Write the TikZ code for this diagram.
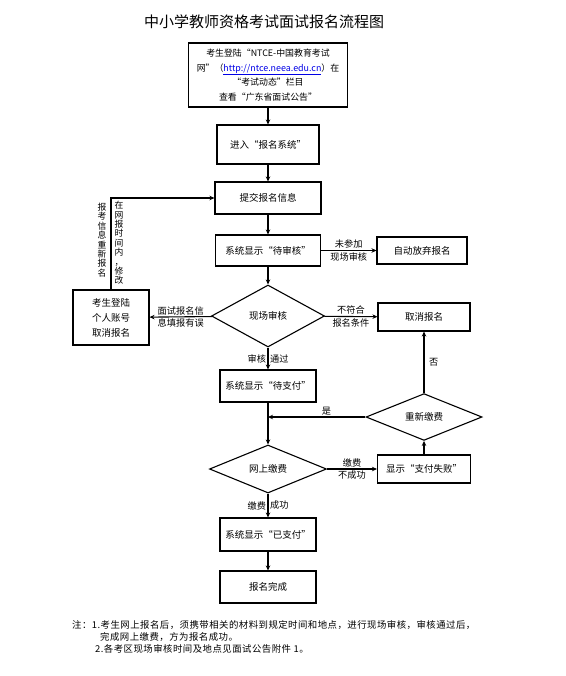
\documentclass[tikz,border=0pt]{standalone}
\usepackage{fontspec}
\setmainfont{Noto Sans CJK SC}
\definecolor{linkblue}{RGB}{0, 0, 230}
\usetikzlibrary{shapes.geometric, arrows.meta, positioning}

\tikzset{
  flowbox/.style={draw, line width=1.1pt, inner sep=2pt, align=center,
                  font=\fontsize{9.5}{14.5}\selectfont},
  decision/.style={draw, diamond, line width=1.1pt, inner sep=0pt,
                   font=\fontsize{9.5}{11}\selectfont},
  flowarrow/.style={-{Stealth[length=5pt, width=4.5pt]}, line width=1.1pt},
  lbl/.style={font=\fontsize{9.2}{10}\selectfont, inner sep=1.5pt},
  vlbl/.style={font=\fontsize{8.8}{9.4}\selectfont, inner sep=0pt, align=center},
  notetext/.style={anchor=west, inner sep=0pt,
                   font=\addfontfeature{LetterSpace=5}\fontsize{9.4}{11}\selectfont}
}

\begin{document}
\begin{tikzpicture}[x=1pt, y=-1pt]
\useasboundingbox (0,0) rectangle (565,676);

\node[font=\fontsize{15}{18}\selectfont] (title) at (264,22) {中小学教师资格考试面试报名流程图};

% main column
\node[flowbox, minimum width=159pt, minimum height=64pt,
      font=\fontsize{8.9}{14.5}\selectfont] (notice) at (268,75)
  {考生登陆“NTCE-中国教育考试\\网”（\textcolor{linkblue}{\underline{http://ntce.neea.edu.cn}}）在\\“考试动态”栏目\\查看“广东省面试公告”};
\node[flowbox, minimum width=102pt, minimum height=39pt] (enter) at (268,144.5) {进入“报名系统”};
\node[flowbox, minimum width=106pt, minimum height=32pt] (submit) at (268,198) {提交报名信息};
\node[flowbox, minimum width=105pt, minimum height=31pt] (pending) at (268,250.5) {系统显示“待审核”};
\node[decision, minimum width=113pt, minimum height=62pt] (audit) at (268,316) {现场审核};
\node[flowbox, minimum width=96pt, minimum height=32pt] (waitpay) at (268,386) {系统显示“待支付”};
\node[decision, minimum width=117pt, minimum height=48pt] (pay) at (268,469) {网上缴费};
\node[flowbox, minimum width=96pt, minimum height=33pt] (paid) at (268,534.5) {系统显示“已支付”};
\node[flowbox, minimum width=96pt, minimum height=32pt] (done) at (268,587) {报名完成};

% side nodes
\node[flowbox, minimum width=90pt, minimum height=27pt] (giveup) at (422,250.5) {自动放弃报名};
\node[flowbox, minimum width=92pt, minimum height=28pt] (cancel) at (424,317) {取消报名};
\node[flowbox, minimum width=76pt, minimum height=55pt,
      font=\fontsize{9.5}{15}\selectfont] (selfcancel) at (111,317.5) {考生登陆\\个人账号\\取消报名};
\node[decision, minimum width=116pt, minimum height=44pt] (repay) at (424,417) {重新缴费};
\node[flowbox, minimum width=93pt, minimum height=28pt] (fail) at (424,469) {显示“支付失败”};

\coordinate (join) at (268,417);

% connectors
\draw[flowarrow] (notice) -- (enter);
\draw[flowarrow] (enter) -- (submit);
\draw[flowarrow] (submit) -- (pending);
\draw[flowarrow] (pending) -- (audit);
\draw[flowarrow] (pending) -- node[lbl, above] {未参加} node[lbl, below] {现场审核} (giveup);
\draw[flowarrow] (audit) -- node[lbl, above] {不符合} node[lbl, below] {报名条件} (cancel);
\draw[flowarrow] (audit) -- node[lbl, above] {面试报名信} node[lbl, below] {息填报有误} (selfcancel);
\draw[flowarrow] (selfcancel.north) |- (submit.west);
\node[vlbl] (redo) at (102,240) {报\\考\\信\\息\\重\\新\\报\\名};
\node[vlbl] (modify) at (119,243) {在\\网\\报\\时\\间\\内\\，\\修\\改};
\draw[flowarrow] (audit) -- node[lbl, left] {审核} node[lbl, right] {通过} (waitpay);
\draw[line width=1.1pt] (waitpay) -- (join);
\draw[flowarrow] (join) -- (pay);
\draw[flowarrow] (repay) -- node[lbl, above, pos=0.4] {是} (join);
\draw[flowarrow] (repay) -- node[lbl, right=3pt] {否} (cancel);
\draw[flowarrow] (pay) -- node[lbl, above] {缴费} node[lbl, below] {不成功} (fail);
\draw[flowarrow] (fail) -- (repay);
\draw[flowarrow] (pay) -- node[lbl, left] {缴费} node[lbl, right] {成功} (paid);
\draw[flowarrow] (paid) -- (done);

% notes
\node[notetext] (note1) at (72,625) {注：1.考生网上报名后，须携带相关的材料到规定时间和地点，进行现场审核，审核通过后，};
\node[notetext] (note2) at (100,637) {完成网上缴费，方为报名成功。};
\node[notetext] (note3) at (95,649) {2.各考区现场审核时间及地点见面试公告附件 1。};
\end{tikzpicture}
\end{document}
